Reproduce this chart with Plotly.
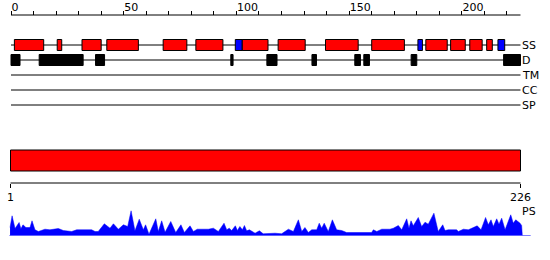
import plotly.graph_objects as go

# ---------------- data ----------------
seq_len = 226
top_ticks = [0, 50, 100, 150, 200]
top_minor_ticks = list(range(0, 221, 10))
bottom_ticks = [1, 226]

row_labels = ["SS", "D", "TM", "CC", "SP"]

helix_start = [1.5, 20.5, 31.5, 42.5, 67.5, 82, 102.5, 118.5, 139.5, 160, 184, 195, 203.5, 211]
helix_end = [14.5, 22.5, 40, 56.5, 78, 94, 114, 130.5, 154, 174.5, 193.5, 201.5, 209, 213.5]
strand_start = [99.5, 180.5, 216]
strand_end = [102.5, 182.5, 219]

dis_start = [0, 12.5, 37.5, 97.5, 113.5, 133.5, 152.5, 156.5, 177.5, 218.5]
dis_end = [4, 32, 41.5, 98.5, 118, 135.5, 155, 159, 180, 226]

domain_start = [1]
domain_end = [226]

ps_pos = [0.8, 1.7, 3.0, 4.8, 5.6, 6.5, 7.8, 9.6, 10.5, 11.8, 13.3, 16.2, 18.4, 22.1,
          24.3, 28.0, 30.2, 36.8, 38.3, 39.7, 42.4, 44.9, 46.4, 48.6, 50.8, 52.7,
          54.2, 55.9, 57.8, 59.6, 60.6, 62.1, 65.1, 66.2, 67.7, 69.2, 71.7, 73.9,
          76.2, 77.7, 80.2, 81.7, 83.4, 88.3, 90.5, 92.7, 95.2, 96.4, 97.5, 98.6,
          100.2, 101.1, 102.2, 103.3, 104.2, 105.2, 106.4, 108.9, 110.8, 112.5, 117.7,
          120.6, 123.6, 125.8, 128.0, 129.5, 130.9, 132.4, 133.9, 136.1, 137.2, 138.3,
          139.4, 141.2, 143.0, 144.9, 147.1, 149.3, 160.3, 161.1, 162.6, 164.8, 168.4,
          169.9, 172.1, 173.6, 175.8, 176.8, 177.7, 178.7, 180.9, 182.4, 183.9, 185.3,
          187.8, 189.7, 191.7, 192.7, 194.1, 197.8, 198.6, 200.8, 203.0, 206.9, 208.6,
          210.6, 211.8, 213.0, 214.0, 215.5, 216.5, 217.7, 219.2, 221.7, 222.8, 223.9,
          225.8, 226.5, 226.8]
ps_val = [8, 19.7, 7, 13, 6.7, 10.7, 8, 8, 14.7, 5.7, 4, 6.3, 5.7, 7,
          5, 4, 5.7, 5.7, 4, 4, 11.7, 7.3, 11.7, 6.3, 10.7, 9,
          24.7, 4.7, 16.3, 5.7, 10.7, 1.3, 16.7, 4, 14.7, 3.3, 14, 3,
          10.7, 3, 9.7, 4, 6.3, 6.3, 7.3, 4, 12.3, 5.7, 7.3, 5,
          9.7, 5, 9, 5.7, 10, 4.7, 5.7, 2.3, 4.7, 1.7, 2.3,
          1.7, 6.3, 4, 15.7, 4, 8, 3, 5.7, 5.7, 12.3, 7.3,
          12.3, 4, 15.7, 5.7, 5, 3, 3, 5.7, 4, 6.3, 6.3,
          7.3, 10, 5.7, 16.7, 7.3, 14.7, 9.7, 18, 9, 13.3, 11.3,
          22.3, 4, 10.7, 5, 5.7, 5.7, 4, 6.3, 5.7, 9.7, 5.7,
          18, 10.7, 15.7, 9, 16.7, 11.3, 17.3, 5.7, 20.7, 12.3, 15.7,
          12.3, 10, 0]
ps_baseline_end = 230.5

# ---------------- style ----------------
W, H = 550, 260
FONT = "DejaVu Sans"
RED, BLUE, BLACK = "#FF0000", "#0000FF", "#000000"
row_y = [45, 60, 75, 90, 105]
axis_y = 15
box_half = 5.5

fig = go.Figure()

# row lines + top axis line
lx, ly = [], []
for yy in [axis_y] + row_y:
    lx += [0, seq_len, None]
    ly += [yy, yy, None]
fig.add_trace(go.Scatter(x=lx, y=ly, mode="lines", line=dict(color=BLACK, width=1),
                         xaxis="x", yaxis="y", hoverinfo="skip", showlegend=False))

# bottom axis line
fig.add_trace(go.Scatter(x=[domain_start[0], domain_end[0]], y=[183, 183], mode="lines",
                         line=dict(color=BLACK, width=1), xaxis="x2", yaxis="y",
                         hoverinfo="skip", showlegend=False))

# PS profile
fig.add_trace(go.Scatter(x=[0.5, ps_baseline_end], y=[0, 0], mode="lines",
                         line=dict(color=BLUE, width=1), xaxis="x2", yaxis="y3",
                         hoverinfo="skip", showlegend=False))
fig.add_trace(go.Scatter(x=ps_pos, y=ps_val, mode="lines", fill="tozeroy",
                         fillcolor=BLUE, line=dict(color=BLUE, width=0.5),
                         xaxis="x2", yaxis="y3", hoverinfo="skip", showlegend=False))

shapes = []
for s, e in zip(helix_start, helix_end):
    shapes.append(dict(type="rect", xref="x", yref="y", x0=s, x1=e,
                       y0=row_y[0] - box_half, y1=row_y[0] + box_half,
                       fillcolor=RED, line=dict(color=BLACK, width=1)))
for s, e in zip(strand_start, strand_end):
    shapes.append(dict(type="rect", xref="x", yref="y", x0=s, x1=e,
                       y0=row_y[0] - box_half, y1=row_y[0] + box_half,
                       fillcolor=BLUE, line=dict(color=BLACK, width=1)))
for s, e in zip(dis_start, dis_end):
    shapes.append(dict(type="rect", xref="x", yref="y", x0=s, x1=e,
                       y0=row_y[1] - box_half, y1=row_y[1] + box_half,
                       fillcolor=BLACK, line=dict(color=BLACK, width=1)))
for s, e in zip(domain_start, domain_end):
    shapes.append(dict(type="rect", xref="x2", yref="y", x0=s, x1=e,
                       y0=150, y1=171,
                       fillcolor=RED, line=dict(color=BLACK, width=1)))

annotations = []
for lab, yy in zip(row_labels, row_y):
    annotations.append(dict(text=lab, xref="paper", yref="y", x=520 / W, y=yy,
                            xanchor="left", yanchor="middle", showarrow=False,
                            font=dict(family=FONT, size=11, color=BLACK)))
annotations.append(dict(text="PS", xref="paper", yref="y", x=520 / W, y=211,
                        xanchor="left", yanchor="middle", showarrow=False,
                        font=dict(family=FONT, size=11, color=BLACK)))

top_scale = 509.5 / seq_len
fig.update_layout(
    width=W, height=H, margin=dict(l=0, r=0, t=0, b=0),
    paper_bgcolor="white", plot_bgcolor="rgba(0,0,0,0)",
    shapes=shapes, annotations=annotations, showlegend=False,
    xaxis=dict(domain=[0, 525 / W], range=[-11 / top_scale, 228],
               side="top", anchor="free", position=1 - axis_y / H,
               showline=False, showgrid=False, zeroline=False,
               tickmode="array", tickvals=top_ticks, ticktext=[str(t) for t in top_ticks],
               ticks="outside", ticklen=4, tickwidth=1, tickcolor=BLACK,
               minor=dict(tickvals=top_minor_ticks, ticks="outside", ticklen=4,
                          tickwidth=1, tickcolor=BLACK, showgrid=False),
               ticklabelposition="outside right",
               tickfont=dict(family=FONT, size=11, color=BLACK), fixedrange=True),
    yaxis=dict(domain=[0, 1], range=[H, 0], visible=False, fixedrange=True),
    xaxis2=dict(domain=[0, 1], range=[1 - 10.5 / (510 / 225), 1 + 539.5 / (510 / 225)],
                side="bottom", anchor="free", position=1 - 183 / H,
                showline=False, showgrid=False, zeroline=False,
                tickmode="array", tickvals=bottom_ticks, ticktext=[str(t) for t in bottom_ticks],
                ticks="outside", ticklen=4, tickwidth=1, tickcolor=BLACK,
                tickfont=dict(family=FONT, size=11, color=BLACK), fixedrange=True),
    yaxis3=dict(domain=[(H - 235.5) / H, (H - 210) / H], range=[0, 25.5],
                anchor="x2", visible=False, fixedrange=True),
)

fig.write_html("out.html")
